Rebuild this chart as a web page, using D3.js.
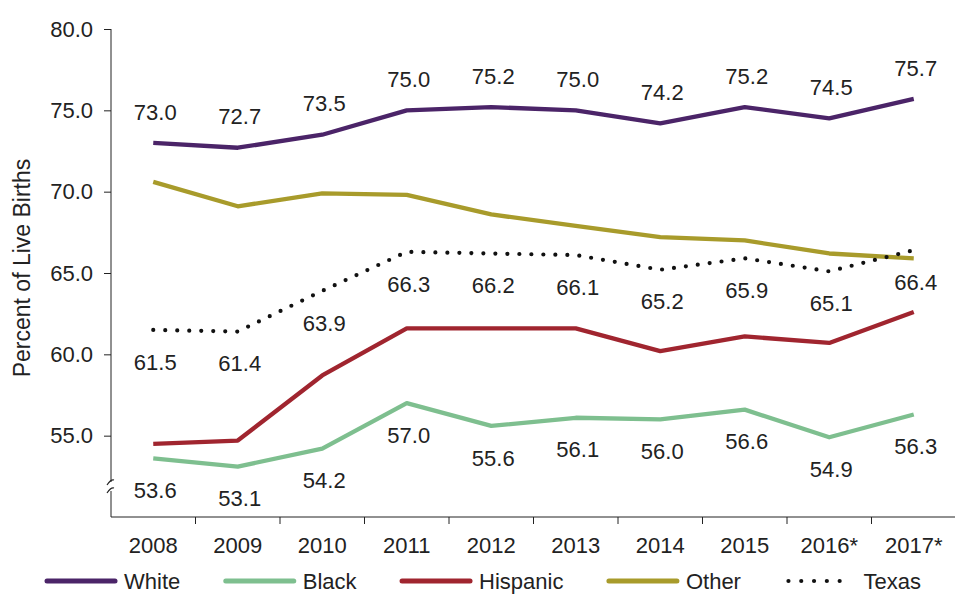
<!DOCTYPE html>
<html>
<head>
<meta charset="utf-8">
<script src="https://cdn.jsdelivr.net/npm/d3@7"></script>
<style>
  body { margin: 0; background: #fff; }
  text { font-family: "Liberation Sans", Arial, sans-serif; fill: #222; }
</style>
</head>
<body>
<script>
// values
var years = ["2008", "2009", "2010", "2011", "2012", "2013", "2014", "2015", "2016*", "2017*"];
var white    = [73.0, 72.7, 73.5, 75.0, 75.2, 75.0, 74.2, 75.2, 74.5, 75.7];
var black    = [53.6, 53.1, 54.2, 57.0, 55.6, 56.1, 56.0, 56.6, 54.9, 56.3];
var hispanic = [54.5, 54.7, 58.7, 61.6, 61.6, 61.6, 60.2, 61.1, 60.7, 62.6];
var other    = [70.6, 69.1, 69.9, 69.8, 68.6, 67.9, 67.2, 67.0, 66.2, 65.9];
var texas    = [61.5, 61.4, 63.9, 66.3, 66.2, 66.1, 65.2, 65.9, 65.1, 66.4];
var yTicks = [55, 60, 65, 70, 75, 80];

var series = [
    {name: "White",    values: white,    color: "#4b2468", label: "above"},
    {name: "Black",    values: black,    color: "#7ebf8f", label: "below"},
    {name: "Hispanic", values: hispanic, color: "#a0252f", label: null},
    {name: "Other",    values: other,    color: "#a89b2b", label: null},
    {name: "Texas",    values: texas,    color: "#111",    label: "below", dotted: true}
];

var width = 955,
    height = 595;

var svg = d3.select("body").append("svg")
    .attr("width", width)
    .attr("height", height);

var x = d3.scaleBand()
    .domain(years)
    .range([111, 956]);

var y = d3.scaleLinear()
    .domain([50, 80])
    .range([517, 29]);

// y axis
var yAxis = svg.append("g")
    .attr("transform", "translate(111,0)")
    .call(d3.axisLeft(y).tickValues(yTicks).tickSize(7).tickPadding(11).tickFormat(d3.format(".1f")));
yAxis.select(".domain").attr("d", "M0," + y(80) + "V" + y(50));
yAxis.selectAll("line").attr("stroke", "#222");
yAxis.selectAll(".domain").attr("stroke", "#222");
yAxis.selectAll("text").style("font-size", "22px").attr("fill", "#222");

// axis break
svg.append("rect").attr("x", 104).attr("y", 482).attr("width", 14).attr("height", 9).attr("fill", "#fff");
svg.append("path").attr("d", "M107,485 Q111,479 114,480").attr("fill", "none").attr("stroke", "#222").attr("stroke-width", 1.2);
svg.append("path").attr("d", "M107,493 Q111,487 114,488").attr("fill", "none").attr("stroke", "#222").attr("stroke-width", 1.2);

// x axis: ticks sit between categories
var xAxis = svg.append("g")
    .attr("transform", "translate(0,517)");
xAxis.append("line")
    .attr("x1", 111).attr("x2", 956)
    .attr("stroke", "#222");
xAxis.selectAll(".tick")
    .data(years.slice(1))
    .enter().append("line")
    .attr("x1", function(d) { return x(d); })
    .attr("x2", function(d) { return x(d); })
    .attr("y2", 7)
    .attr("stroke", "#222");
xAxis.selectAll(".lbl")
    .data(years)
    .enter().append("text")
    .attr("x", function(d) { return x(d) + x.bandwidth() / 2; })
    .attr("y", 28)
    .attr("dy", "0.35em")
    .attr("text-anchor", "middle")
    .style("font-size", "22px")
    .text(function(d) { return d; });

// y title
svg.append("text")
    .attr("transform", "translate(22,268) rotate(-90)")
    .attr("text-anchor", "middle")
    .attr("dy", "0.35em")
    .style("font-size", "23px")
    .text("Percent of Live Births");

var line = d3.line()
    .x(function(d, i) { return x(years[i]) + x.bandwidth() / 2; })
    .y(function(d) { return y(d); });

// draw order: Other, Hispanic, Black, White, Texas on top
var order = ["Other", "Hispanic", "Black", "White", "Texas"];
order.forEach(function(n) {
    var s = series.find(function(d) { return d.name === n; });
    var p = svg.append("path")
        .datum(s.values)
        .attr("d", line)
        .attr("fill", "none")
        .attr("stroke", s.color)
        .attr("stroke-width", 4.3)
        .attr("stroke-linejoin", "round");
    if (s.dotted) {
        p.attr("stroke-dasharray", "0 12").attr("stroke-linecap", "round").attr("stroke-width", 4.2);
    }
});

// data labels
series.filter(function(s) { return s.label; }).forEach(function(s) {
    svg.append("g").selectAll("text")
        .data(s.values)
        .enter().append("text")
        .attr("x", function(d, i) { return x(years[i]) + x.bandwidth() / 2 + 2; })
        .attr("y", function(d) { return y(d) + (s.label === "above" ? -31 : 32); })
        .attr("dy", "0.35em")
        .attr("text-anchor", "middle")
        .style("font-size", "22px")
        .text(function(d) { return d3.format(".1f")(d); });
});

// legend
var lx = 47;
series.forEach(function(s) {
    var g = svg.append("g").attr("transform", "translate(" + lx + ",581)");
    var l = g.append("line")
        .attr("x1", 0).attr("x2", 68)
        .attr("stroke", s.color)
        .attr("stroke-width", 5)
        .attr("stroke-linecap", "round");
    if (s.dotted) {
        l.attr("x1", 2).attr("x2", 66).attr("stroke-dasharray", "0 12.8").attr("stroke-width", 4.2);
    }
    var t = g.append("text")
        .attr("x", 77)
        .attr("dy", "0.35em")
        .style("font-size", "22px")
        .text(s.name);
    lx += 77 + t.node().getComputedTextLength() + 45.5;
});
</script>
</body>
</html>
